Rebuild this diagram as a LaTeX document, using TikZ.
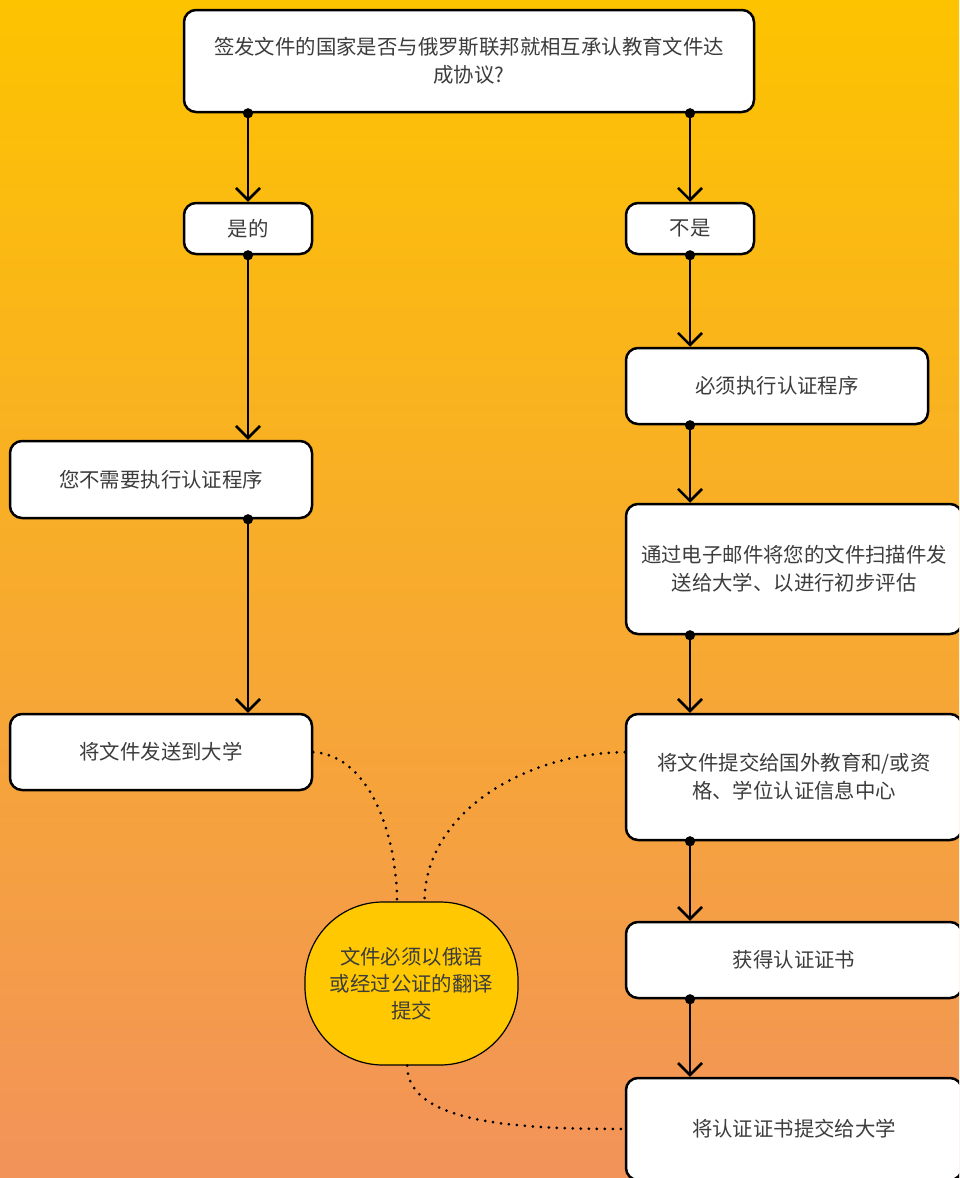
\documentclass[tikz,border=0pt]{standalone}
\usepackage{fontspec}
\setmainfont{Noto Sans CJK SC}
\usepackage{tikz}
\usetikzlibrary{positioning, arrows.meta}
\definecolor{bgtop}{HTML}{FDC300}
\definecolor{bgmid}{HTML}{F7AD38}
\definecolor{bgbot}{HTML}{F2935A}
\definecolor{textgray}{HTML}{3C3C3C}
\definecolor{blobyellow}{HTML}{FFC800}

\begin{document}
\begin{tikzpicture}[
    x=1pt, y=-1pt,
    box/.style={
      draw=black, line width=2.5pt, rounded corners=12pt, fill=white,
      align=center, inner sep=0pt, text=textgray,
      font=\fontsize{20.4}{28}\selectfont
    },
    blob/.style={
      draw=black, line width=1.2pt, rounded corners=78pt, fill=blobyellow,
      align=center, inner sep=0pt, text=textgray,
      minimum width=213pt, minimum height=163pt,
      font=\fontsize{20.4}{27}\selectfont
    },
    arr/.style={
      {Circle[length=10pt]}-{Straight Barb[length=12pt,width=24pt]},
      line width=2.5pt, shorten <=-5pt
    },
    dots/.style={
      line width=3pt, line cap=round, dash pattern=on 0pt off 8pt
    },
  ]
    \useasboundingbox (0,0) rectangle (959,1178);
    \clip (0,0) rectangle (959,1178);
    \shade[top color=bgtop, middle color=bgmid, bottom color=bgbot]
      (0,0) rectangle (959,1178);

    \node[box, minimum width=570pt, minimum height=102pt] (q) at (469,61) {%
      签发文件的国家是否与俄罗斯联邦就相互承认教育文件达\\
      成协议?
    };
    \node[box, minimum width=128pt, minimum height=51pt] (yes) at (248,228.5) {是的};
    \node[box, minimum width=128pt, minimum height=51pt] (no) at (690,228.5) {不是};
    \node[box, minimum width=302pt, minimum height=76pt] (must) at (777,386) {必须执行认证程序};
    \node[box, minimum width=302pt, minimum height=77pt] (noneed) at (161,479.5) {您不需要执行认证程序};
    \node[box, minimum width=336pt, minimum height=130pt] (email) at (794,569) {%
      通过电子邮件将您的文件扫描件发\\
      送给大学、以进行初步评估
    };
    \node[box, minimum width=302pt, minimum height=76pt] (send) at (161,752) {将文件发送到大学};
    \node[box, minimum width=336pt, minimum height=126pt] (submit) at (794,777) {%
      将文件提交给国外教育和/或资\\
      格、学位认证信息中心
    };
    \node[box, minimum width=336pt, minimum height=76pt] (cert) at (794,960) {获得认证证书};
    \node[box, minimum width=336pt, minimum height=102pt] (final) at (794,1129) {将认证证书提交给大学};
    \node[blob] (lang) at (411.5,983.5) {%
      文件必须以俄语\\
      或经过公证的翻译\\
      提交
    };

    \draw[arr] (q.south -| yes) -- (yes.north);
    \draw[arr] (q.south -| no) -- (no.north);
    \draw[arr] (yes.south) -- (noneed.north -| yes);
    \draw[arr] (no.south) -- (must.north -| no);
    \draw[arr] (must.south -| no) -- (email.north -| no);
    \draw[arr] (noneed.south -| yes) -- (send.north -| yes);
    \draw[arr] (email.south -| no) -- (submit.north -| no);
    \draw[arr] (submit.south -| no) -- (cert.north -| no);
    \draw[arr] (cert.south -| no) -- (final.north -| no);

    \draw[dots] (send.east) .. controls (372,756) and (397,840) .. (lang.100);
    \draw[dots] (send.east -| submit.west) .. controls (520,754) and (425,815) .. (lang.81);
    \draw[dots] (lang.267) .. controls (407,1124) and (520,1129) .. (final.west);
\end{tikzpicture}
\end{document}
